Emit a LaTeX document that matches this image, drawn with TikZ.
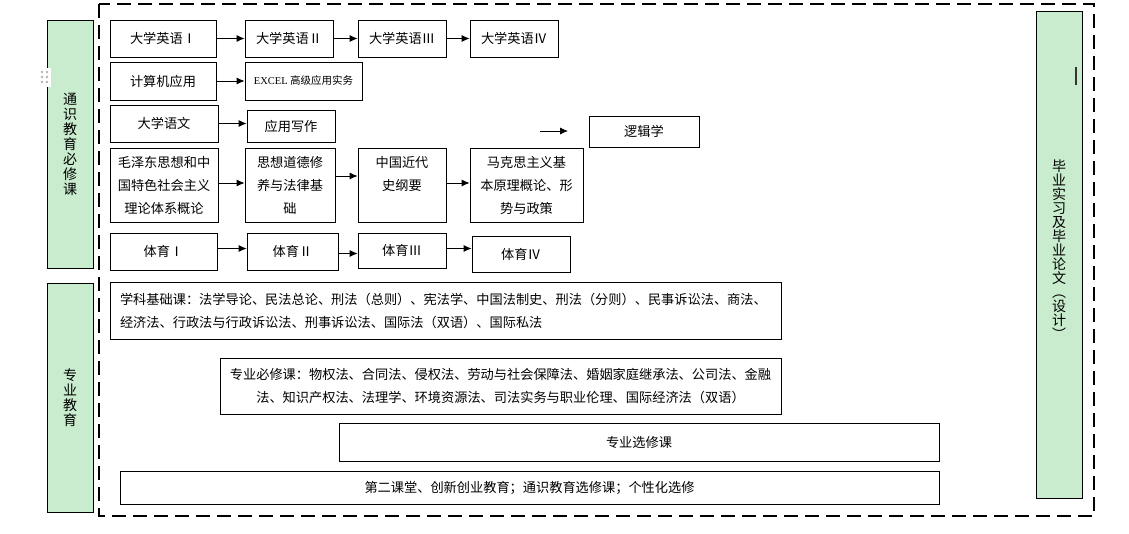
\documentclass[tikz,border=0pt]{standalone}
\usepackage{fontspec}
\setmainfont{Noto Sans CJK SC}
\newfontfamily\serifpart{Liberation Serif}
\usetikzlibrary{positioning, arrows.meta}

\definecolor{kegreen}{RGB}{200,236,205}

\tikzset{
  course/.style={draw, line width=0.8pt, inner sep=0pt, align=center,
    font=\fontsize{13.2}{23}\selectfont},
  block/.style={course, fill=kegreen},
  arr/.style={line width=0.8pt, -{Latex[length=8pt,width=7pt]}}
}

\begin{document}
\begin{tikzpicture}[x=1pt, y=-1pt]
		\useasboundingbox (0,0) rectangle (1129,534);

		% rahmen
		\draw[line width=2pt, dash pattern=on 14pt off 7pt] (99,4) rectangle (1094,516);

		% gruene spalten
		\node[block, minimum width=46, minimum height=248, font=\fontsize{14}{15}\selectfont] (tongshi) at (70,144) {通\\识\\教\\育\\必\\修\\课};
		\node[block, minimum width=46, minimum height=229, font=\fontsize{14}{15}\selectfont] (zhuanye) at (70,397.5) {专\\业\\教\\育};
		\node[block, minimum width=46, minimum height=487, font=\fontsize{14}{14}\selectfont] (biye) at (1059,254.5) {\\[-12pt]毕\\业\\实\\习\\及\\毕\\业\\论\\文\\︵\\设\\计\\︶};
		\draw[line width=2pt, black!80] (1076,67) -- (1076,85);

		% griff
		\fill[white] (38,68) rectangle (51,87);
		\foreach \gx in {42,47}
		  \foreach \gy in {72,77,82}
		    \fill[gray!60] (\gx,\gy) circle (1.3pt);

		% englisch
		\node[course, minimum width=106, minimum height=37] (eng1) at (163,38.5) {大学英语Ⅰ};
		\node[course, minimum width=88, minimum height=37] (eng2) at (289,38.5) {大学英语Ⅱ};
		\node[course, minimum width=88, minimum height=37] (eng3) at (402,38.5) {大学英语Ⅲ};
		\node[course, minimum width=88, minimum height=37] (eng4) at (514,38.5) {大学英语Ⅳ};

		% computer
		\node[course, minimum width=106, minimum height=38] (comp) at (163,81) {计算机应用};
		\node[course, minimum width=117, minimum height=38, font=\fontsize{10.5}{12}\selectfont] (excel) at (303.5,81) {{\serifpart EXCEL} 高级应用实务};

		% yuwen, logik
		\node[course, minimum width=108, minimum height=37] (yuwen) at (164,123.5) {大学语文};
		\node[course, minimum width=88, minimum height=32] (xiezuo) at (291,126) {应用写作};
		\node[course, minimum width=110, minimum height=31] (logic) at (644,131.5) {逻辑学};
		\coordinate (la) at (540,131);
		\coordinate (lb) at (568,131);

		% politik
		\node[course, minimum width=108, minimum height=74] (mao) at (164,185) {毛泽东思想和中\\国特色社会主义\\理论体系概论};
		\node[course, minimum width=90, minimum height=74] (sixiu) at (290,185) {思想道德修\\养与法律基\\础};
		\node[course, minimum width=88, minimum height=74] (jindai) at (402,185) {中国近代\\史纲要\\\phantom{史}};
		\node[course, minimum width=113, minimum height=74] (makesi) at (526.5,185) {马克思主义基\\本原理概论、形\\势与政策};

		% sport
		\node[course, minimum width=107, minimum height=37] (pe1) at (163.5,251.5) {体育Ⅰ};
		\node[course, minimum width=91, minimum height=37] (pe2) at (292.5,251.5) {体育Ⅱ};
		\node[course, minimum width=88, minimum height=35] (pe3) at (402,250.5) {体育Ⅲ};
		\node[course, minimum width=98, minimum height=36] (pe4) at (521,254) {体育Ⅳ};

		% fachkurse
		\node[course, minimum width=671, minimum height=57, align=left, text width=651] (jichu) at (445.5,310.5)
		  {学科基础课：法学导论、民法总论、刑法（总则）、宪法学、中国法制史、刑法（分则）、民事诉讼法、商法、\\经济法、行政法与行政诉讼法、刑事诉讼法、国际法（双语）、国际私法};
		\node[course, minimum width=561, minimum height=56] (bixiu) at (500.5,386)
		  {专业必修课：物权法、合同法、侵权法、劳动与社会保障法、婚姻家庭继承法、公司法、金融\\法、知识产权法、法理学、环境资源法、司法实务与职业伦理、国际经济法（双语）};
		\node[course, minimum width=600, minimum height=38] (xuanxiu) at (639,442) {专业选修课};
		\node[course, minimum width=819, minimum height=33] (dier) at (529.5,487.5) {第二课堂、创新创业教育；通识教育选修课；个性化选修};

		% pfeile
		\draw[arr] (eng1) -- (eng2);
		\draw[arr] (eng2) -- (eng3);
		\draw[arr] (eng3) -- (eng4);
		\draw[arr] (comp) -- (comp.east -| excel.west);
		\draw[arr] (yuwen.east) -- (yuwen.east -| xiezuo.west);
		\draw[arr] (la) -- (lb);
		\draw[arr] ([yshift=2pt]mao.east) -- ([yshift=2pt]mao.east -| sixiu.west);
		\draw[arr] ([yshift=9pt]sixiu.east) -- ([yshift=9pt]sixiu.east -| jindai.west);
		\draw[arr] ([yshift=2pt]jindai.east) -- ([yshift=2pt]jindai.east -| makesi.west);
		\draw[arr] ([yshift=3pt]pe1.east) -- ([yshift=3pt]pe1.east -| pe2.west);
		\draw[arr] ([yshift=-2pt]pe2.east) -- ([yshift=-2pt]pe2.east -| pe3.west);
		\draw[arr] ([yshift=2pt]pe3.east) -- ([yshift=2pt]pe3.east -| pe4.west);
\end{tikzpicture}
\end{document}
